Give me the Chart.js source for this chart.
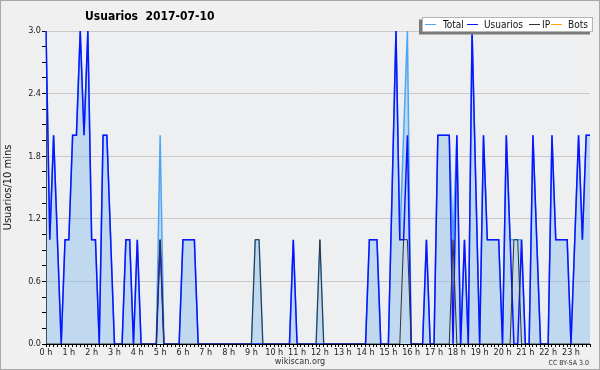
<html lang="es">
<head>
    <meta charset="UTF-8">
    <title>Usuarios 2017-07-10</title>
    <script src="https://cdn.jsdelivr.net/npm/chart.js@4.4.0/dist/chart.umd.min.js"></script>
    <style>
        body { margin: 0; background: #f0f0f0; }
        canvas { display: block; }
    </style>
</head>
<body>
    <canvas id="myChart" width="600" height="370"></canvas>

    <script>
        // hour tick labels, one every 6 slots (10 min each)
        const hourTicks = ['0 h', '1 h', '2 h', '3 h', '4 h', '5 h', '6 h', '7 h', '8 h', '9 h', '10 h', '11 h',
            '12 h', '13 h', '14 h', '15 h', '16 h', '17 h', '18 h', '19 h', '20 h', '21 h', '22 h', '23 h'];
        const minutes = ['00', '10', '20', '30', '40', '50'];

        // values per 10 minutes (6 per hour)
        const total = [
            3, 1, 2, 1, 0, 1,   1, 2, 2, 3, 2, 3,
            1, 1, 0, 2, 2, 1,   0, 0, 0, 1, 1, 0,
            1, 0, 0, 0, 0, 0,   2, 0, 0, 0, 0, 0,
            1, 1, 1, 1, 0, 0,   0, 0, 0, 0, 0, 0,
            0, 0, 0, 0, 0, 0,   0, 1, 1, 0, 0, 0,
            0, 0, 0, 0, 0, 1,   0, 0, 0, 0, 0, 0,
            1, 0, 0, 0, 0, 0,   0, 0, 0, 0, 0, 0,
            0, 1, 1, 1, 0, 0,   0, 1.5, 3, 1, 2, 3,
            0, 0, 0, 0, 1, 0,   0, 2, 2, 2, 2, 1,
            2, 0, 1, 0, 3, 1.5, 0, 2, 1, 1, 1, 1,
            0, 2, 1, 1, 1, 1,   0, 0, 2, 1, 0, 0,
            0, 2, 1, 1, 1, 1,   0, 1, 2, 1, 2, 2
        ];
        const usuarios = [
            3, 1, 2, 1, 0, 1,   1, 2, 2, 3, 2, 3,
            1, 1, 0, 2, 2, 1,   0, 0, 0, 1, 1, 0,
            1, 0, 0, 0, 0, 0,   1, 0, 0, 0, 0, 0,
            1, 1, 1, 1, 0, 0,   0, 0, 0, 0, 0, 0,
            0, 0, 0, 0, 0, 0,   0, 0, 0, 0, 0, 0,
            0, 0, 0, 0, 0, 1,   0, 0, 0, 0, 0, 0,
            0, 0, 0, 0, 0, 0,   0, 0, 0, 0, 0, 0,
            0, 1, 1, 1, 0, 0,   0, 1.5, 3, 1, 1, 2,
            0, 0, 0, 0, 1, 0,   0, 2, 2, 2, 2, 0,
            2, 0, 1, 0, 3, 1.5, 0, 2, 1, 1, 1, 1,
            0, 2, 1, 0, 0, 1,   0, 0, 2, 1, 0, 0,
            0, 2, 1, 1, 1, 1,   0, 1, 2, 1, 2, 2
        ];
        const ip = [
            0, 0, 0, 0, 0, 0,   0, 0, 0, 0, 0, 0,
            0, 0, 0, 0, 0, 0,   0, 0, 0, 0, 0, 0,
            0, 0, 0, 0, 0, 0,   1, 0, 0, 0, 0, 0,
            0, 0, 0, 0, 0, 0,   0, 0, 0, 0, 0, 0,
            0, 0, 0, 0, 0, 0,   0, 1, 1, 0, 0, 0,
            0, 0, 0, 0, 0, 0,   0, 0, 0, 0, 0, 0,
            1, 0, 0, 0, 0, 0,   0, 0, 0, 0, 0, 0,
            0, 0, 0, 0, 0, 0,   0, 0, 0, 0, 1, 1,
            0, 0, 0, 0, 0, 0,   0, 0, 0, 0, 0, 1,
            0, 0, 0, 0, 0, 0,   0, 0, 0, 0, 0, 0,
            0, 0, 0, 1, 1, 0,   0, 0, 0, 0, 0, 0,
            0, 0, 0, 0, 0, 0,   0, 0, 0, 0, 0, 0
        ];
        const bots = [];

        const slots = [];
        hourTicks.forEach(h => minutes.forEach(m => slots.push(h + ' ' + m)));

        const FONT = '"DejaVu Sans Condensed", "DejaVu Sans", sans-serif';

        const decor = {
            id: 'decor',
            beforeDraw(chart) {
                const { ctx, chartArea: a } = chart;
                ctx.save();
                ctx.fillStyle = '#f0f0f0';
                ctx.fillRect(0, 0, chart.width, chart.height);
                ctx.fillStyle = '#edeff1';
                ctx.fillRect(a.left, a.top, a.right - a.left, a.bottom - a.top);
                ctx.restore();
            },
            afterDraw(chart) {
                const ctx = chart.ctx;
                ctx.save();
                // frame
                ctx.strokeStyle = '#a8a8a8';
                ctx.lineWidth = 1;
                ctx.strokeRect(0.5, 0.5, chart.width - 1, chart.height - 1);

                // title
                ctx.fillStyle = '#000';
                ctx.textBaseline = 'middle';
                ctx.font = 'bold 12px ' + FONT;
                ctx.fillText('Usuarios  2017-07-10', 85, 16.5);

                // legend box with shadow
                ctx.fillStyle = '#7a7a7a';
                ctx.fillRect(419, 19.5, 171, 15);
                ctx.fillStyle = '#ffffff';
                ctx.fillRect(422, 17, 171, 15);
                ctx.strokeStyle = '#b4b4b4';
                ctx.strokeRect(422.5, 17.5, 170, 14);

                const lineX = [425, 467, 529, 551];
                const textX = [443, 484, 542, 568];
                ctx.font = '10px ' + FONT;
                chart.data.datasets.forEach((ds, i) => {
                    ctx.strokeStyle = ds.borderColor;
                    ctx.lineWidth = 1;
                    ctx.beginPath();
                    ctx.moveTo(lineX[i], 24.5);
                    ctx.lineTo(lineX[i] + 11, 24.5);
                    ctx.stroke();
                    ctx.fillStyle = '#111';
                    ctx.fillText(ds.label, textX[i], 25);
                });

                // footer
                ctx.fillStyle = '#333';
                ctx.font = '9px ' + FONT;
                ctx.textAlign = 'center';
                ctx.fillText('wikiscan.org', 300, 362);
                ctx.font = '7px ' + FONT;
                ctx.textAlign = 'right';
                ctx.fillText('CC BY-SA 3.0', 589, 363);
                ctx.restore();
            }
        };

        const isMajor = v => Math.round(v * 100) % 60 === 0;

        new Chart(document.getElementById('myChart'), {
            type: 'line',
            data: {
                labels: slots,
                datasets: [{
                    label: 'Total',
                    data: total,
                    borderColor: '#4da6f5',
                    backgroundColor: 'rgba(130, 185, 235, 0.42)',
                    borderWidth: 1.5,
                    fill: 'origin',
                    order: 3
                }, {
                    label: 'Usuarios',
                    data: usuarios,
                    borderColor: '#0a14ff',
                    borderWidth: 1.5,
                    fill: false,
                    order: 2
                }, {
                    label: 'IP',
                    data: ip,
                    borderColor: '#333333',
                    borderWidth: 1,
                    fill: false,
                    order: 1
                }, {
                    label: 'Bots',
                    data: bots,
                    borderColor: '#ffa500',
                    borderWidth: 1,
                    fill: false,
                    order: 0
                }]
            },
            options: {
                responsive: false,
                animation: false,
                devicePixelRatio: 1,
                layout: { padding: { top: 31, right: 10, left: 0, bottom: 0 } },
                elements: {
                    point: { radius: 0, hoverRadius: 0 },
                    line: { tension: 0 }
                },
                plugins: {
                    legend: { display: false },
                    title: { display: false },
                    tooltip: { enabled: false }
                },
                scales: {
                    x: {
                        type: 'category',
                        z: 1,
                        border: { color: '#000', width: 1 },
                        grid: { drawOnChartArea: false, drawTicks: true, tickLength: 3, color: '#000' },
                        ticks: {
                            autoSkip: false,
                            maxRotation: 0,
                            minRotation: 0,
                            padding: 0,
                            color: '#222',
                            font: { family: FONT, size: 9 },
                            callback: (v, i) => i % 6 === 0 ? hourTicks[i / 6] : ''
                        },
                        afterFit: s => { s.height = 26; }
                    },
                    y: {
                        min: 0,
                        max: 3,
                        border: { color: '#000', width: 1 },
                        grid: {
                            color: c => isMajor(c.tick.value) ? '#c9c9c9' : 'rgba(0,0,0,0)',
                            tickColor: '#000',
                            tickLength: 4
                        },
                        ticks: {
                            stepSize: 0.15,
                            autoSkip: false,
                            padding: 1,
                            color: '#222',
                            font: { family: FONT, size: 9 },
                            callback: v => isMajor(v) ? v.toFixed(1) : ''
                        },
                        title: {
                            display: true,
                            text: 'Usuarios/10 mins',
                            color: '#111',
                            font: { family: FONT, size: 11 },
                            padding: { top: 2, bottom: 0 }
                        },
                        afterFit: s => { s.width = 46; }
                    }
                }
            },
            plugins: [decor]
        });
    </script>
</body>
</html>
